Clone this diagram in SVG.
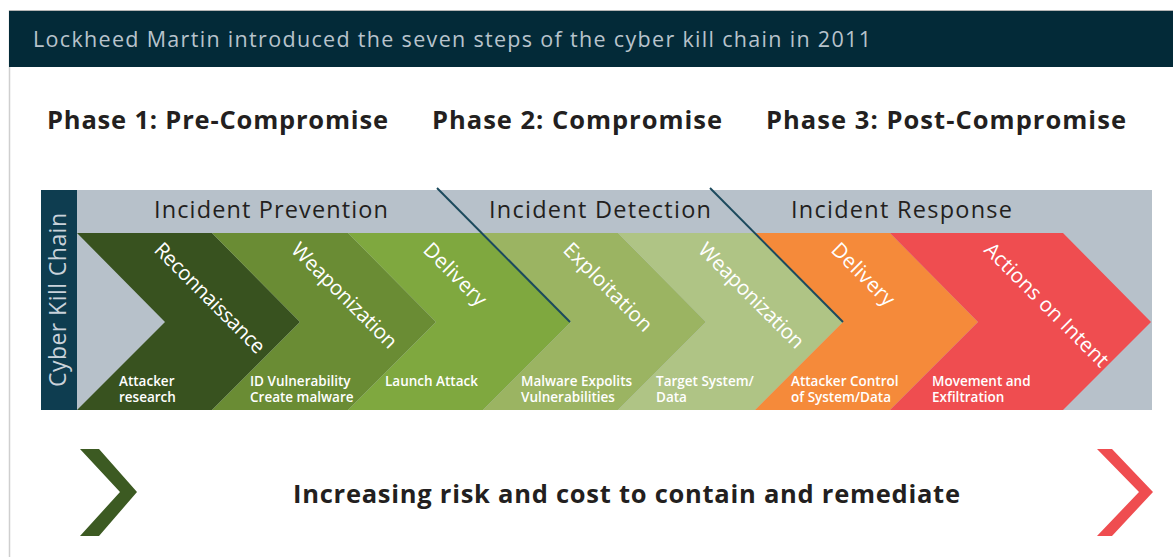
<svg xmlns="http://www.w3.org/2000/svg" width="1173" height="557" viewBox="0 0 1173 557">
<style>
.hdr{font-family:"Open Sans","Liberation Sans",sans-serif;font-size:21.5px;fill:#b8c3cc}
.phase{font-family:"Open Sans","Liberation Sans",sans-serif;font-size:25.5px;font-weight:700;fill:#231f20}
.band{font-family:"Open Sans","Liberation Sans",sans-serif;font-size:23.5px;fill:#231f20}
.step{font-family:"Open Sans","Liberation Sans",sans-serif;font-size:20.5px;fill:#ffffff}
.sub{font-family:"Open Sans","Liberation Sans",sans-serif;font-size:13.5px;font-weight:600;fill:#ffffff}
.side{font-family:"Open Sans","Liberation Sans",sans-serif;font-size:23px;fill:#c9d2da}
.div{stroke:#1c4a5d;stroke-width:2;fill:none}
</style>
<rect width="1173" height="557" fill="#ffffff"/>
<line x1="9.5" y1="10" x2="9.5" y2="557" stroke="#cfcfcf" stroke-width="1.5"/>
<g id="header">
<rect x="9" y="10" width="1164" height="57" fill="#032a38"/>
<line x1="9" y1="10.5" x2="1173" y2="10.5" stroke="#b5b5b5" stroke-width="1"/>
<text class="hdr" x="33" y="47" textLength="838">Lockheed Martin introduced the seven steps of the cyber kill chain in 2011</text>
</g>
<g id="phases">
<text class="phase" x="47" y="129" textLength="341">Phase 1: Pre-Compromise</text>
<text class="phase" x="432" y="129" textLength="290">Phase 2: Compromise</text>
<text class="phase" x="766" y="129" textLength="360">Phase 3: Post-Compromise</text>
</g>
<g id="band">
<rect x="41" y="190" width="36" height="220" fill="#0e3d50"/>
<rect x="77" y="190" width="1075" height="220" fill="#b7c1ca"/>
<text class="side" transform="translate(66,300) rotate(-90)" text-anchor="middle" textLength="174">Cyber Kill Chain</text>
<text class="band" x="154" y="218" textLength="234">Incident Prevention</text>
<text class="band" x="489" y="218" textLength="222">Incident Detection</text>
<text class="band" x="791" y="218" textLength="221">Incident Response</text>
</g>
<g id="step1">
<polygon points="77,233 212,233 300,322 212,410 77,410 165,322" fill="#38521f"/>
<text class="step" transform="translate(153,251) rotate(45)" textLength="147">Reconnaissance</text>
<text class="sub" x="119" y="386">Attacker</text>
<text class="sub" x="119" y="402">research</text>
</g>
<g id="step2">
<polygon points="212,233 348,233 436,322 348,410 212,410 300,322" fill="#6a8c34"/>
<text class="step" transform="translate(290,251) rotate(45)" textLength="140">Weaponization</text>
<text class="sub" x="250" y="386">ID Vulnerability</text>
<text class="sub" x="250" y="402">Create malware</text>
</g>
<g id="step3">
<polygon points="348,233 483,233 571,322 483,410 348,410 436,322" fill="#7fa83f"/>
<text class="step" transform="translate(422,251) rotate(45)" textLength="80">Delivery</text>
<text class="sub" x="385" y="386">Launch Attack</text>
</g>
<g id="step4">
<polygon points="483,233 618,233 706,322 618,410 483,410 571,322" fill="#9bb462"/>
<text class="step" transform="translate(562,251) rotate(45)" textLength="116">Exploitation</text>
<text class="sub" x="521" y="386">Malware Expolits</text>
<text class="sub" x="521" y="402">Vulnerabilities</text>
</g>
<g id="step5">
<polygon points="618,233 755,233 843,322 755,410 618,410 706,322" fill="#afc485"/>
<text class="step" transform="translate(697,251) rotate(45)" textLength="140">Weaponization</text>
<text class="sub" x="656" y="386">Target System/</text>
<text class="sub" x="656" y="402">Data</text>
</g>
<g id="step6">
<polygon points="755,233 890,233 978,322 890,410 755,410 843,322" fill="#f58a3a"/>
<text class="step" transform="translate(830,251) rotate(45)" textLength="80">Delivery</text>
<text class="sub" x="791" y="386">Attacker Control</text>
<text class="sub" x="791" y="402">of System/Data</text>
</g>
<g id="step7">
<polygon points="890,233 1063,233 1151,322 1063,410 890,410 978,322" fill="#ef4d50"/>
<text class="step" transform="translate(983,251) rotate(45)" textLength="166">Actions on Intent</text>
<text class="sub" x="932" y="386">Movement and</text>
<text class="sub" x="932" y="402">Exfiltration</text>
</g>
<g id="connectors">
<line class="div" x1="437" y1="188" x2="570" y2="322"/>
<line class="div" x1="710" y1="188" x2="843" y2="322"/>
</g>
<g id="footer">
<polygon points="80,449 99,449 137,492 99,536 80,536 120,492" fill="#3c5a22"/>
<polygon points="1097,449 1112,449 1153,492 1112,536 1097,536 1139,492" fill="#ef4d50"/>
<text class="phase" x="293" y="503" textLength="667">Increasing risk and cost to contain and remediate</text>
</g>
</svg>
